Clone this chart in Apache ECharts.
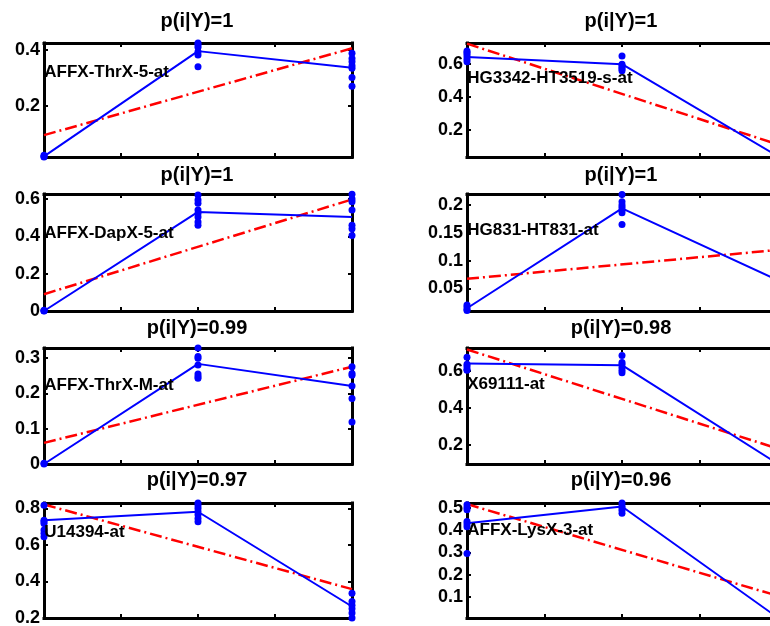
<!DOCTYPE html>
<html>
<head>
<meta charset="utf-8">
<script src="https://cdn.jsdelivr.net/npm/echarts@6/dist/echarts.min.js"></script>
<style>
  html, body { margin: 0; padding: 0; background: #fff; }
  #chart { width: 770px; height: 626px; }
</style>
</head>
<body>
<div id="chart"></div>
<script>
// ---------- data ----------
const groupX = [1, 2, 3];
const xTicks = [1, 1.5, 2, 2.5, 3];

const titles = ['p(i|Y)=1', 'p(i|Y)=1', 'p(i|Y)=1', 'p(i|Y)=1',
                'p(i|Y)=0.99', 'p(i|Y)=0.98', 'p(i|Y)=0.97', 'p(i|Y)=0.96'];
const genes = ['AFFX-ThrX-5-at', 'HG3342-HT3519-s-at', 'AFFX-DapX-5-at', 'HG831-HT831-at',
               'AFFX-ThrX-M-at', 'X69111-at', 'U14394-at', 'AFFX-LysX-3-at'];

// 1: AFFX-ThrX-5-at
const thrX5Means = [0.02, 0.396, 0.337];
const thrX5Dots1 = [0.018, 0.02, 0.024];
const thrX5Dots2 = [0.425, 0.418, 0.41, 0.394, 0.382, 0.34];
const thrX5Dots3 = [0.388, 0.37, 0.358, 0.344, 0.335, 0.302, 0.271];
const thrX5Fit = [0.096, 0.406];
const thrX5Range = [0.018, 0.425];
const thrX5Ticks = [0.2, 0.4];
const thrX5LabelY = 0.321;

// 2: HG3342-HT3519-s-at
const hg3342Means = [0.644, 0.60, 0.045];
const hg3342Dots1 = [0.68, 0.67, 0.66, 0.645, 0.63, 0.615];
const hg3342Dots2 = [0.65, 0.60, 0.59, 0.58, 0.57, 0.56];
const hg3342Dots3 = [0.065, 0.05, 0.042, 0.038];
const hg3342Fit = [0.724, 0.116];
const hg3342Range = [0.038, 0.728];
const hg3342Ticks = [0.2, 0.4, 0.6];
const hg3342LabelY = 0.512;

// 3: AFFX-DapX-5-at
const dapX5Means = [0.0, 0.531, 0.504];
const dapX5Dots1 = [0.0, 0.002, 0.004];
const dapX5Dots2 = [0.622, 0.595, 0.577, 0.541, 0.523, 0.504, 0.477, 0.459];
const dapX5Dots3 = [0.625, 0.6, 0.585, 0.541, 0.459, 0.441, 0.405];
const dapX5Fit = [0.09, 0.598];
const dapX5Range = [0, 0.627];
const dapX5Ticks = [0, 0.2, 0.4, 0.6];
const dapX5LabelY = 0.418;

// 4: HG831-HT831-at
const hg831Means = [0.014, 0.194, 0.065];
const hg831Dots1 = [0.02, 0.016, 0.012, 0.01];
const hg831Dots2 = [0.219, 0.206, 0.2, 0.196, 0.191, 0.186, 0.165];
const hg831Dots3 = [0.09, 0.07, 0.06, 0.05];
const hg831Fit = [0.067, 0.119];
const hg831Range = [0.009, 0.22];
const hg831Ticks = [0.05, 0.1, 0.15, 0.2];
const hg831LabelY = 0.155;

// 5: AFFX-ThrX-M-at
const thrXMMeans = [0.0, 0.284, 0.221];
const thrXMDots1 = [0.0, 0.002];
const thrXMDots2 = [0.329, 0.305, 0.30, 0.281, 0.255, 0.248, 0.243];
const thrXMDots3 = [0.276, 0.257, 0.252, 0.221, 0.186, 0.119];
const thrXMFit = [0.06, 0.276];
const thrXMRange = [0, 0.329];
const thrXMTicks = [0, 0.1, 0.2, 0.3];
const thrXMLabelY = 0.224;

// 6: X69111-at
const x69111Means = [0.641, 0.632, 0.101];
const x69111Dots1 = [0.675, 0.637, 0.625, 0.61, 0.604];
const x69111Dots2 = [0.684, 0.647, 0.635, 0.62, 0.605, 0.591];
const x69111Dots3 = [0.13, 0.11, 0.1, 0.097];
const x69111Fit = [0.717, 0.182];
const x69111Range = [0.097, 0.725];
const x69111Ticks = [0.2, 0.4, 0.6];
const x69111LabelY = 0.526;

// 7: U14394-at
const u14394Means = [0.736, 0.782, 0.263];
const u14394Dots1 = [0.818, 0.736, 0.727, 0.718, 0.682, 0.664, 0.645];
const u14394Dots2 = [0.83, 0.815, 0.80, 0.782, 0.765, 0.745, 0.727];
const u14394Dots3 = [0.336, 0.29, 0.27, 0.25, 0.227, 0.2];
const u14394Fit = [0.822, 0.358];
const u14394Range = [0.2, 0.83];
const u14394Ticks = [0.2, 0.4, 0.6, 0.8];
const u14394LabelY = 0.672;

// 8: AFFX-LysX-3-at
const lysX3Means = [0.432, 0.507, 0.008];
const lysX3Dots1 = [0.515, 0.503, 0.492, 0.44, 0.428, 0.416, 0.295];
const lysX3Dots2 = [0.523, 0.51, 0.5, 0.49, 0.477];
const lysX3Dots3 = [0.03, 0.015, 0.005];
const lysX3Fit = [0.518, 0.105];
const lysX3Range = [0.004, 0.523];
const lysX3Ticks = [0.1, 0.2, 0.3, 0.4, 0.5];
const lysX3LabelY = 0.401;

const panels = [
  [thrX5Means, thrX5Dots1, thrX5Dots2, thrX5Dots3, thrX5Fit, thrX5Range, thrX5Ticks, thrX5LabelY],
  [hg3342Means, hg3342Dots1, hg3342Dots2, hg3342Dots3, hg3342Fit, hg3342Range, hg3342Ticks, hg3342LabelY],
  [dapX5Means, dapX5Dots1, dapX5Dots2, dapX5Dots3, dapX5Fit, dapX5Range, dapX5Ticks, dapX5LabelY],
  [hg831Means, hg831Dots1, hg831Dots2, hg831Dots3, hg831Fit, hg831Range, hg831Ticks, hg831LabelY],
  [thrXMMeans, thrXMDots1, thrXMDots2, thrXMDots3, thrXMFit, thrXMRange, thrXMTicks, thrXMLabelY],
  [x69111Means, x69111Dots1, x69111Dots2, x69111Dots3, x69111Fit, x69111Range, x69111Ticks, x69111LabelY],
  [u14394Means, u14394Dots1, u14394Dots2, u14394Dots3, u14394Fit, u14394Range, u14394Ticks, u14394LabelY],
  [lysX3Means, lysX3Dots1, lysX3Dots2, lysX3Dots3, lysX3Fit, lysX3Range, lysX3Ticks, lysX3LabelY]
];

// ---------- layout ----------
const colLeft = [44, 467];
const colWidth = [308, 310];
const rowTop = [43, 194, 348, 503];
const rowHeight = [114, 117, 116, 115];
const titleX = [197, 621];
const titleY = [21, 175, 328, 480];

const FONT = '"Liberation Sans", Arial, Helvetica, sans-serif';
const BLUE = '#0000ff';
const RED = '#ff0000';

const grids = [], xAxes = [], yAxes = [], series = [], graphics = [];

const axisLineStyle = { show: true, onZero: false, lineStyle: { color: '#000', width: 3, cap: 'square' } };
const tickStyle = { show: true, inside: true, length: 4, lineStyle: { color: '#000', width: 2 } };

panels.forEach((p, i) => {
  const [means, d1, d2, d3, fit, range, ticks, labelY] = p;
  const col = i % 2, row = Math.floor(i / 2);
  grids.push({
    left: colLeft[col], top: rowTop[row], width: colWidth[col], height: rowHeight[row],
    show: false, containLabel: false, outerBoundsMode: 'none'
  });
  ['bottom', 'top'].forEach(pos => {
    xAxes.push({
      type: 'value', gridIndex: i, position: pos, min: 1, max: 3,
      axisLine: axisLineStyle,
      axisTick: Object.assign({}, tickStyle, { customValues: xTicks }),
      axisLabel: { show: false, customValues: xTicks },
      splitLine: { show: false }
    });
  });
  ['left', 'right'].forEach(pos => {
    yAxes.push({
      type: 'value', gridIndex: i, position: pos, min: range[0], max: range[1],
      axisLine: axisLineStyle,
      axisTick: Object.assign({}, tickStyle, { customValues: ticks }),
      axisLabel: {
        show: pos === 'left', customValues: ticks, margin: 4,
        color: '#000', fontFamily: FONT, fontWeight: 'bold', fontSize: 18,
        formatter: v => String(+v.toFixed(2))
      },
      splitLine: { show: false }
    });
  });
  const xi = i * 2, yi = i * 2;
  series.push({
    type: 'line', xAxisIndex: xi, yAxisIndex: yi, symbol: 'none', silent: true,
    data: [[groupX[0], fit[0]], [groupX[2], fit[1]]],
    lineStyle: { color: RED, width: 2.5, type: [12, 4, 2, 4] }, z: 3
  });
  series.push({
    type: 'line', xAxisIndex: xi, yAxisIndex: yi, symbol: 'none', silent: true,
    data: means.map((m, k) => [groupX[k], m]),
    lineStyle: { color: BLUE, width: 2 }, z: 4
  });
  const dots = [];
  [d1, d2, d3].forEach((arr, k) => arr.forEach(v => dots.push([groupX[k], v])));
  series.push({
    type: 'scatter', xAxisIndex: xi, yAxisIndex: yi, symbol: 'circle', symbolSize: 7,
    silent: true, clip: false, data: dots, itemStyle: { color: BLUE, opacity: 1 }, z: 5
  });
  series.push({
    type: 'scatter', xAxisIndex: xi, yAxisIndex: yi, symbol: 'rect', symbolSize: 0.5, silent: true,
    itemStyle: { color: '#000', opacity: 1 },
    data: [[groupX[0], labelY]],
    label: {
      show: true, position: 'right', distance: 0, formatter: genes[i],
      color: '#000', opacity: 1, fontFamily: FONT, fontWeight: 'bold', fontSize: 17,
      align: 'left', verticalAlign: 'middle'
    },
    emphasis: { disabled: true }, z: 6
  });
  graphics.push({
    type: 'text', x: titleX[col], y: titleY[row], silent: true,
    style: {
      text: titles[i], fill: '#000', font: 'bold 20px ' + FONT,
      textAlign: 'center', textVerticalAlign: 'middle'
    }
  });
});

const chart = echarts.init(document.getElementById('chart'), null, { renderer: 'canvas' });
chart.setOption({
  animation: false,
  backgroundColor: '#fff',
  grid: grids,
  xAxis: xAxes,
  yAxis: yAxes,
  series: series,
  graphic: graphics
});
</script>
</body>
</html>
